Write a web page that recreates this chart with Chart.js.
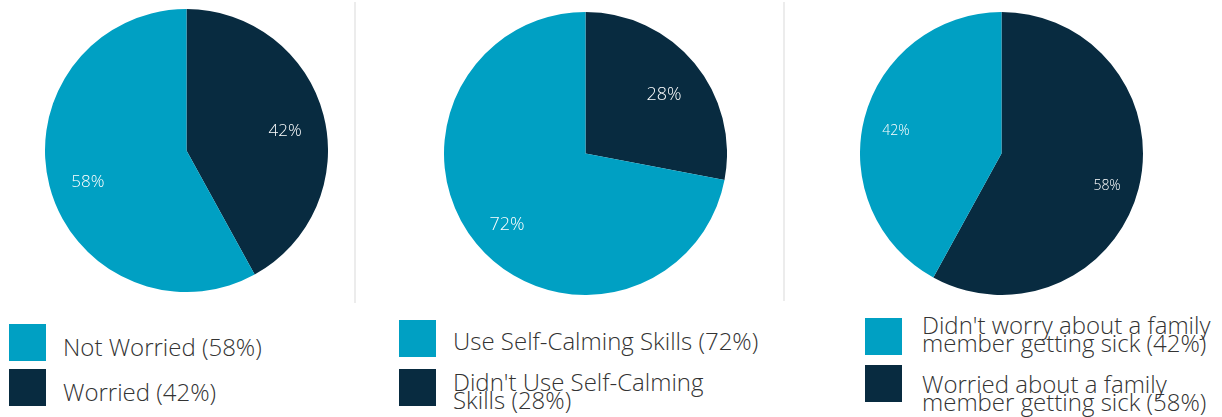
<!DOCTYPE html>
<html>
<head>
<meta charset="utf-8">
<script src="https://cdn.jsdelivr.net/npm/chart.js@4.4.1/dist/chart.umd.min.js"></script>
<style>
  html, body { margin: 0; padding: 0; background: #fff; }
  body { width: 1222px; height: 417px; position: relative; overflow: hidden; font-family: "Open Sans", sans-serif; }
  .pie { position: absolute; width: 283px; height: 283px; }
  .divider { position: absolute; top: 2px; width: 2px; background: #ececec; }
  .sw { position: absolute; width: 37px; height: 37px; }
  .txt { position: absolute; font-size: 24px; font-weight: 300; color: #333; line-height: 18px; white-space: nowrap; }
</style>
</head>
<body>
<div class="divider" style="left:354px;height:301px"></div>
<div class="divider" style="left:783px;height:299px"></div>

<div class="pie" style="left:45px;top:9px"><canvas id="pie1"></canvas></div>
<div class="pie" style="left:444px;top:12px"><canvas id="pie2"></canvas></div>
<div class="pie" style="left:860px;top:12px"><canvas id="pie3"></canvas></div>

<div id="legends"></div>

<script>
const teal = '#00a0c3'
const navy = '#082b40'

// slice order is clockwise from 12 o'clock
const worryLabels = ['Worried', 'Not Worried']
const worryValues = [42, 58]
const worryColors = [navy, teal]

const calmLabels = ["Didn't Use Self-Calming Skills", 'Use Self-Calming Skills']
const calmValues = [28, 72]
const calmColors = [navy, teal]

const familyLabels = ['Worried about a family member getting sick', "Didn't worry about a family member getting sick"]
const familyValues = [58, 42]
const familyColors = [navy, teal]

// percentage written inside each slice
const sliceLabels = {
    id: 'sliceLabels',
    afterDatasetsDraw(chart, args, opts) {
        const ctx = chart.ctx
        const meta = chart.getDatasetMeta(0)
        const values = chart.data.datasets[0].data
        ctx.save()
        ctx.fillStyle = '#ffffff'
        ctx.font = '300 ' + opts.size + 'px "Open Sans"'
        ctx.textAlign = 'center'
        ctx.textBaseline = 'middle'
        meta.data.forEach((arc, i) => {
            const p = arc.getProps(['x', 'y', 'startAngle', 'endAngle', 'outerRadius'], true)
            const mid = (p.startAngle + p.endAngle) / 2
            const r = p.outerRadius * opts.factor
            ctx.fillText(values[i] + '%', p.x + Math.cos(mid) * r, p.y + Math.sin(mid) * r + opts.dy)
        })
        ctx.restore()
    }
}

function makePie(id, labels, values, colors, size, factor, dy) {
    const ctx = document.querySelector(id).getContext('2d')
    return new Chart(ctx, {
        type: 'pie',
        data: {
            labels: labels,
            datasets: [{
                data: values,
                backgroundColor: colors,
                borderWidth: 0,
                hoverOffset: 0
            }]
        },
        options: {
            responsive: true,
            maintainAspectRatio: false,
            animation: false,
            layout: { padding: 0 },
            plugins: {
                legend: { display: false },
                tooltip: { enabled: false },
                sliceLabels: { size: size, factor: factor, dy: dy }
            }
        },
        plugins: [sliceLabels]
    })
}

makePie('#pie1', worryLabels, worryValues, worryColors, 17, 0.72, 6)
makePie('#pie2', calmLabels, calmValues, calmColors, 18, 0.72, 6)
makePie('#pie3', familyLabels, familyValues, familyColors, 14, 0.77, 5)

// legends under each pie, teal entry first
const legends = [
    { x: 9, tx: 63, items: [
        { color: teal, top: 324, textTop: 338, lines: ['Not Worried (' + worryValues[1] + '%)'] },
        { color: navy, top: 369, textTop: 383, lines: ['Worried (' + worryValues[0] + '%)'] }
    ]},
    { x: 399, tx: 453, items: [
        { color: teal, top: 320, textTop: 332, lines: ['Use Self-Calming Skills (' + calmValues[1] + '%)'] },
        { color: navy, top: 369, textTop: 373, lines: ["Didn't Use Self-Calming", 'Skills (' + calmValues[0] + '%)'] }
    ]},
    { x: 865, tx: 922, items: [
        { color: teal, top: 318, textTop: 316, lines: ["Didn't worry about a family", 'member getting sick (' + familyValues[1] + '%)'] },
        { color: navy, top: 365, textTop: 375, lines: ['Worried about a family', 'member getting sick (' + familyValues[0] + '%)'] }
    ]}
]

const box = document.querySelector('#legends')
legends.forEach(lg => {
    lg.items.forEach(item => {
        const sw = document.createElement('div')
        sw.className = 'sw'
        sw.style.left = lg.x + 'px'
        sw.style.top = item.top + 'px'
        sw.style.background = item.color
        box.appendChild(sw)
        const t = document.createElement('div')
        t.className = 'txt'
        t.style.left = lg.tx + 'px'
        t.style.top = item.textTop + 'px'
        t.innerHTML = item.lines.join('<br>')
        box.appendChild(t)
    })
})
</script>
</body>
</html>
